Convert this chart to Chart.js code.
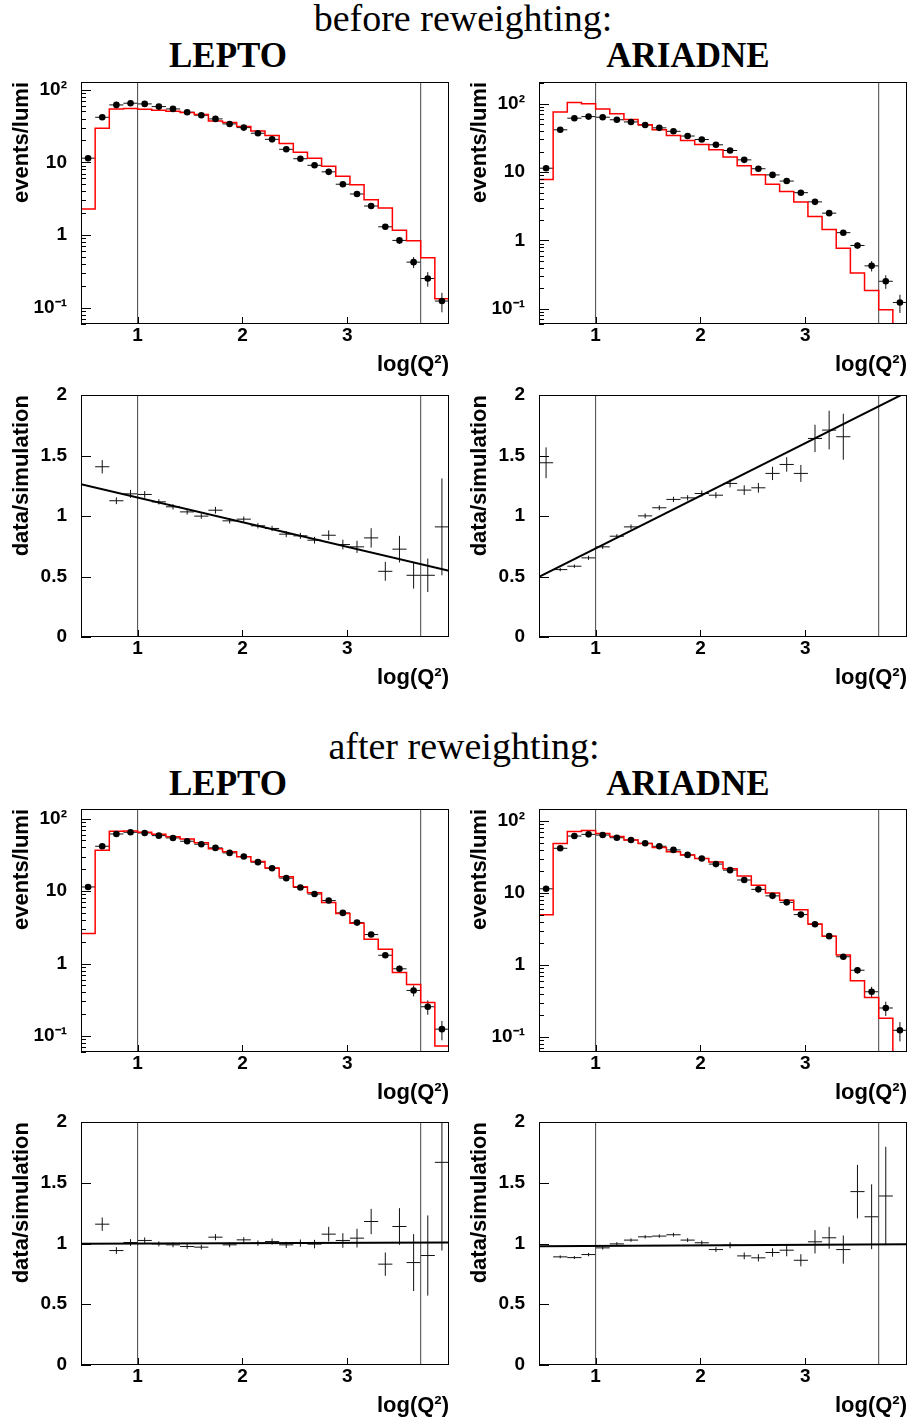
<!DOCTYPE html>
<html>
<head>
<meta charset="utf-8">
<script src="https://cdn.jsdelivr.net/npm/chart.js@4.4.0/dist/chart.umd.min.js"></script>
<style>
  body { margin:0; background:#fff; width:915px; height:1423px; position:relative; overflow:hidden; }
  .ttl { position:absolute; font-family:"Liberation Serif", serif; color:#000; white-space:nowrap; transform:translateX(-50%); line-height:1; }
  .big { font-size:38px; }
  .gen { font-size:35px; font-weight:bold; }
  canvas { position:absolute; }
</style>
</head>
<body>
<div class="ttl big" style="left:463px;top:-1px">before reweighting:</div>
<div class="ttl gen" style="left:228px;top:38px">LEPTO</div>
<div class="ttl gen" style="left:688px;top:38px">ARIADNE</div>
<div class="ttl big" style="left:464px;top:727px">after reweighting:</div>
<div class="ttl gen" style="left:228px;top:766px">LEPTO</div>
<div class="ttl gen" style="left:688px;top:766px">ARIADNE</div>
<script>
// binning in log(Q^2)
const binEdges = [0.460, 0.595, 0.730, 0.865, 1.000, 1.135, 1.270, 1.405, 1.540, 1.675, 1.810, 1.945, 2.080,
  2.215, 2.350, 2.485, 2.620, 2.755, 2.890, 3.025, 3.160, 3.295, 3.430, 3.565, 3.700, 3.835, 3.970];
const xTicks = [1, 2, 3];
const cutLines = [1.0, 3.7];

// measured data (same in all four event panels)
const dataVals = [11.4, 41.6, 61.5, 64.9, 63.5, 58.3, 54.2, 48.8, 44.4, 39.5, 33.7, 30.0, 25.1,
  20.7, 15.1, 11.2, 9.1, 7.4, 5.0, 3.67, 2.51, 1.30, 0.845, 0.425, 0.253, 0.124];
const dataErr = [0.3, 0.6, 0.7, 0.7, 0.7, 0.7, 0.6, 0.6, 0.6, 0.5, 0.5, 0.5, 0.4,
  0.4, 0.35, 0.3, 0.3, 0.25, 0.2, 0.18, 0.15, 0.1, 0.09, 0.073, 0.057, 0.037];

// simulation histograms
const leptoBefore = [2.28, 29.4, 54.2, 54.8, 53.6, 52.0, 50.4, 48.2, 45.3, 37.0, 35.2, 31.0, 27.0,
  23.3, 18.1, 13.7, 11.4, 8.81, 6.42, 4.93, 3.06, 2.35, 1.17, 0.836, 0.488, 0.133];
const ariadneBefore = [7.81, 75.5, 104.6, 100, 83.6, 71.4, 59.0, 49.3, 41.7, 34.4, 29.1, 25.4, 21.2,
  16.6, 12.4, 9.14, 6.67, 5.21, 3.64, 2.24, 1.45, 0.772, 0.333, 0.185, 0.0967, 0.06];
const leptoAfter = [2.60, 36.5, 66.8, 67.5, 64.7, 60.7, 56.4, 52.3, 46.6, 38.5, 35.0, 29.8, 25.7,
  20.8, 15.8, 11.5, 9.48, 6.97, 4.91, 3.61, 2.17, 1.58, 0.751, 0.513, 0.289, 0.0728];
const ariadneAfter = [4.99, 48.3, 71.0, 73.3, 66.6, 60.4, 54.3, 48.3, 42.5, 37.3, 33.6, 30.1, 26.8,
  21.6, 17.1, 12.8, 10.0, 7.90, 5.85, 3.69, 2.51, 1.38, 0.604, 0.354, 0.182, 0.062];

// data/simulation ratios
const ratioLeptoBefore = [null, 1.407, 1.126, 1.183, 1.178, 1.117, 1.076, 1.034, 0.999, 1.048, 0.960, 0.974, 0.919,
  0.897, 0.850, 0.836, 0.800, 0.841, 0.764, 0.745, 0.819, 0.543, 0.726, 0.510, 0.510, 0.910];
const ratioLeptoBeforeErr = [null, 0.055, 0.028, 0.033, 0.028, 0.022, 0.022, 0.022, 0.022, 0.028, 0.022, 0.022, 0.022,
  0.022, 0.025, 0.025, 0.028, 0.04, 0.04, 0.05, 0.08, 0.078, 0.11, 0.11, 0.138, 0.40];
const ratioAriadneBefore = [1.440, 0.557, 0.585, 0.654, 0.745, 0.833, 0.910, 1.001, 1.068, 1.137, 1.150, 1.186, 1.172,
  1.269, 1.214, 1.233, 1.352, 1.426, 1.352, 1.641, 1.710, 1.655, null, null, null, null];
const ratioAriadneBeforeErr = [0.127, 0.014, 0.014, 0.017, 0.017, 0.017, 0.02, 0.02, 0.02, 0.022, 0.022, 0.025, 0.025,
  0.033, 0.04, 0.04, 0.055, 0.06, 0.07, 0.113, 0.16, 0.19, null, null, null, null];
const ratioLeptoAfter = [null, 1.159, 0.942, 1.008, 1.025, 0.997, 0.989, 0.975, 0.970, 1.052, 0.989, 1.030, 1.003,
  1.016, 0.989, 1.003, 0.995, 1.077, 1.025, 1.044, 1.181, 0.830, 1.140, 0.843, 0.901, 1.668];
const ratioLeptoAfterErr = [null, 0.055, 0.028, 0.028, 0.025, 0.02, 0.02, 0.02, 0.02, 0.025, 0.02, 0.022, 0.022,
  0.025, 0.025, 0.03, 0.035, 0.06, 0.06, 0.077, 0.104, 0.096, 0.151, 0.234, 0.33, 0.726];
const ratioAriadneAfter = [null, 0.890, 0.884, 0.909, 0.964, 0.997, 1.028, 1.055, 1.061, 1.072, 1.028, 1.006, 0.950,
  0.986, 0.898, 0.882, 0.926, 0.945, 0.862, 1.014, 1.047, 0.950, 1.427, 1.220, 1.391, null];
const ratioAriadneAfterErr = [null, 0.012, 0.012, 0.014, 0.014, 0.014, 0.014, 0.014, 0.014, 0.016, 0.016, 0.018, 0.02,
  0.025, 0.028, 0.03, 0.035, 0.05, 0.05, 0.096, 0.09, 0.116, 0.22, 0.267, 0.405, null];

// straight-line fits [intercept, slope]
const fitLeptoBefore = [1.357, -0.204];
const fitAriadneBefore = [0.297, 0.435];
const fitLeptoAfter = [0.996, 0.003];
const fitAriadneAfter = [0.976, 0.0047];

const xMin = binEdges[0], xMax = binEdges[binEdges.length - 1];
const centers = binEdges.slice(0, -1).map((e, i) => (e + binEdges[i + 1]) / 2);
const binW = binEdges[1] - binEdges[0];

const AX_W = 81, PAD_T = 14, PAD_R = 6, X_H = 58, PLOT_W = 368;
const FONT = "'Liberation Sans', Arial, Helvetica, sans-serif";
const logLabels = {100: '10²', 10: '10', 1: '1', 0.1: '10⁻¹'};

// ROOT-like frame, inward ticks and error bars
const rootPlugin = {
  id: 'rootFrame',
  beforeDatasetsDraw(chart) {
    const {ctx, chartArea: a, scales: {x, y}} = chart;
    ctx.save();
    ctx.beginPath();
    ctx.rect(a.left, a.top, a.width, a.height);
    ctx.clip();
    ctx.strokeStyle = '#111';
    ctx.lineWidth = 1;
    chart.data.datasets.forEach(ds => {
      if (!ds.yErr) return;
      ds.data.forEach((p, i) => {
        if (p.y == null) return;
        const e = ds.yErr[i] || 0;
        const px = x.getPixelForValue(p.x), py = y.getPixelForValue(p.y);
        const lo = Math.max(p.y - e, y.min * 0.5);
        ctx.beginPath();
        ctx.moveTo(x.getPixelForValue(p.x - binW / 2), py);
        ctx.lineTo(x.getPixelForValue(p.x + binW / 2), py);
        ctx.moveTo(px, y.getPixelForValue(p.y + e));
        ctx.lineTo(px, y.getPixelForValue(lo));
        ctx.stroke();
      });
    });
    ctx.restore();
  },
  afterDraw(chart) {
    const {ctx, chartArea: a, scales: {x, y}} = chart;
    ctx.save();
    ctx.strokeStyle = '#000';
    ctx.lineWidth = 1;
    ctx.strokeRect(a.left + 0.5, a.top + 0.5, a.width - 1, a.height - 1);
    ctx.beginPath();
    xTicks.forEach(v => {
      const px = Math.round(x.getPixelForValue(v)) + 0.5;
      ctx.moveTo(px, a.bottom);
      ctx.lineTo(px, a.bottom - 7);
    });
    if (y.type === 'logarithmic') {
      for (let k = -2; k <= 3; k++) {
        for (let m = 1; m <= 9; m++) {
          const v = m * Math.pow(10, k);
          if (v < y.min || v > y.max) continue;
          const py = Math.round(y.getPixelForValue(v)) + 0.5;
          ctx.moveTo(a.left, py);
          ctx.lineTo(a.left + (m === 1 ? 10 : 5), py);
        }
      }
    } else {
      y.ticks.forEach(t => {
        const py = Math.round(y.getPixelForValue(t.value)) + 0.5;
        ctx.moveTo(a.left, py);
        ctx.lineTo(a.left + 10, py);
      });
    }
    ctx.stroke();
    ctx.restore();
  }
};

function cutSets(lo, hi) {
  return cutLines.map(c => ({
    type: 'line', data: [{x: c, y: lo}, {x: c, y: hi}],
    borderColor: '#444', borderWidth: 1, pointRadius: 0, order: 4
  }));
}

function panel(cfg) {
  const c = document.createElement('canvas');
  const w = AX_W + PLOT_W + PAD_R, h = PAD_T + cfg.plotH + X_H;
  c.width = w; c.height = h;
  c.style.left = (cfg.plotLeft - AX_W) + 'px';
  c.style.top = (cfg.plotTop - PAD_T) + 'px';
  c.style.width = w + 'px';
  c.style.height = h + 'px';
  document.body.appendChild(c);

  const isLog = cfg.kind === 'log';
  let datasets;
  if (isLog) {
    // one point per lower bin edge plus the last upper edge; the step keeps each bin's value across it
    const hist = cfg.mc.map((v, i) => ({x: binEdges[i], y: v}));
    hist.push({x: xMax, y: cfg.mc[cfg.mc.length - 1]});
    datasets = cutSets(cfg.yMin, cfg.yMax).concat([
      {type: 'line', data: hist, stepped: 'before', borderColor: '#ff0000', borderWidth: 1.5,
       pointRadius: 0, fill: false, order: 3},
      {type: 'scatter', data: dataVals.map((v, i) => ({x: centers[i], y: v})), yErr: dataErr,
       pointRadius: 3.3, pointBackgroundColor: '#000', pointBorderColor: '#000', pointBorderWidth: 0, order: 1}
    ]);
  } else {
    const [a0, a1] = cfg.fit;
    datasets = cutSets(0, 2).concat([
      {type: 'line', data: [{x: xMin, y: a0 + a1 * xMin}, {x: xMax, y: a0 + a1 * xMax}],
       borderColor: '#000', borderWidth: 2, pointRadius: 0, fill: false, order: 2},
      {type: 'scatter', data: cfg.ratio.map((v, i) => ({x: centers[i], y: v})), yErr: cfg.err,
       pointRadius: 0, order: 1}
    ]);
  }

  new Chart(c, {
    type: 'scatter',
    data: {datasets},
    options: {
      responsive: false, animation: false, devicePixelRatio: 1,
      layout: {padding: {top: PAD_T, right: PAD_R, left: 0, bottom: 0}},
      plugins: {legend: {display: false}, tooltip: {enabled: false}},
      scales: {
        x: {
          type: 'linear', min: xMin, max: xMax,
          grid: {display: false, drawTicks: false}, border: {display: false},
          afterBuildTicks: s => { s.ticks = xTicks.map(v => ({value: v})); },
          afterFit: s => { s.height = X_H; },
          ticks: {color: '#000', font: {family: FONT, size: 19, weight: 'bold'}, padding: 0,
                  maxRotation: 0, autoSkip: false},
          title: {display: true, text: 'log(Q²)', align: 'end', color: '#000',
                  font: {family: FONT, size: 22, weight: 'bold'}, padding: {top: 0, bottom: 4}}
        },
        y: {
          type: isLog ? 'logarithmic' : 'linear',
          min: isLog ? cfg.yMin : 0, max: isLog ? cfg.yMax : 2,
          grid: {display: false, drawTicks: true, tickLength: 14}, border: {display: false},
          afterBuildTicks: s => {
            const vals = isLog ? [0.1, 1, 10, 100] : [0, 0.5, 1, 1.5, 2];
            s.ticks = vals.filter(v => v >= s.min && v <= s.max).map(v => ({value: v}));
          },
          afterFit: s => { s.width = AX_W; },
          ticks: {color: '#000', font: {family: FONT, size: 19, weight: 'bold'}, padding: 0, autoSkip: false,
                  callback: v => isLog ? logLabels[v] : String(v)},
          title: {display: true, text: isLog ? 'events/lumi' : 'data/simulation', align: 'end', color: '#000',
                  font: {family: FONT, size: 22, weight: 'bold'}, padding: {top: 9, bottom: 0}}
        }
      }
    },
    plugins: [rootPlugin]
  });
}

panel({kind: 'log', plotLeft: 81, plotTop: 82, plotH: 242, mc: leptoBefore, yMin: 0.06, yMax: 127});
panel({kind: 'log', plotLeft: 539, plotTop: 82, plotH: 242, mc: ariadneBefore, yMin: 0.06, yMax: 208});
panel({kind: 'ratio', plotLeft: 81, plotTop: 395, plotH: 242, ratio: ratioLeptoBefore, err: ratioLeptoBeforeErr, fit: fitLeptoBefore});
panel({kind: 'ratio', plotLeft: 539, plotTop: 395, plotH: 242, ratio: ratioAriadneBefore, err: ratioAriadneBeforeErr, fit: fitAriadneBefore});
panel({kind: 'log', plotLeft: 81, plotTop: 809, plotH: 243, mc: leptoAfter, yMin: 0.06, yMax: 136});
panel({kind: 'log', plotLeft: 539, plotTop: 809, plotH: 243, mc: ariadneAfter, yMin: 0.062, yMax: 146});
panel({kind: 'ratio', plotLeft: 81, plotTop: 1122, plotH: 243, ratio: ratioLeptoAfter, err: ratioLeptoAfterErr, fit: fitLeptoAfter});
panel({kind: 'ratio', plotLeft: 539, plotTop: 1122, plotH: 243, ratio: ratioAriadneAfter, err: ratioAriadneAfterErr, fit: fitAriadneAfter});
</script>
</body>
</html>
